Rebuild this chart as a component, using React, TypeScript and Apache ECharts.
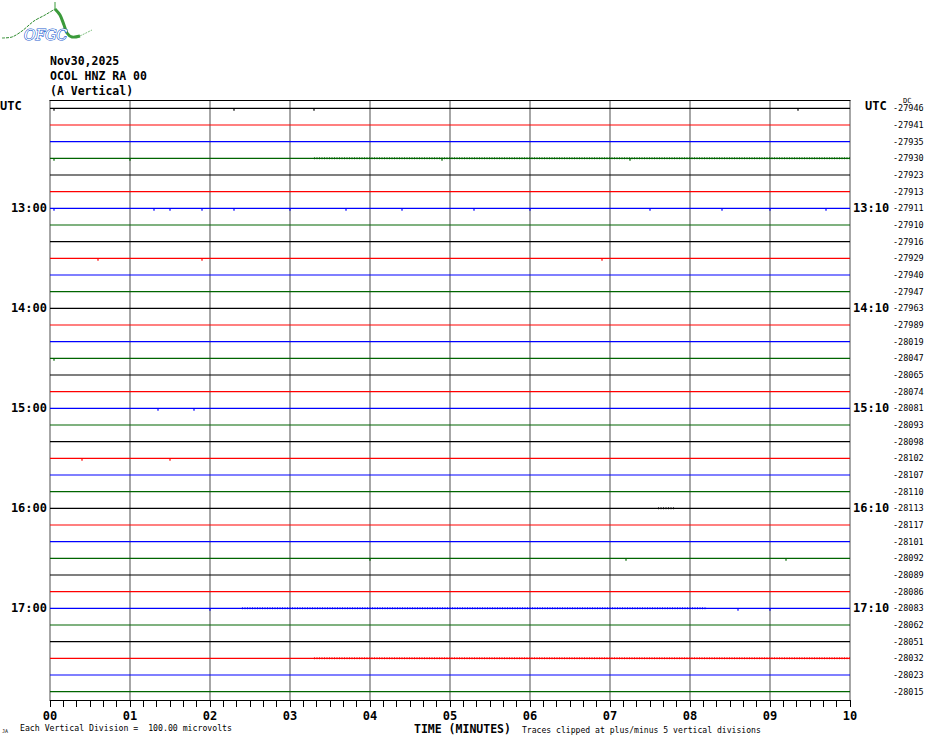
import React, { useEffect, useRef } from "react";
import * as echarts from "echarts";

// ---- data ----
const xTickLabels = ["00", "01", "02", "03", "04", "05", "06", "07", "08", "09", "10"];
const leftHourLabels = [
  "", "", "", "", "", "",
  "13:00", "", "", "", "", "",
  "14:00", "", "", "", "", "",
  "15:00", "", "", "", "", "",
  "16:00", "", "", "", "", "",
  "17:00", "", "", "", "", "",
];
const rightHourLabels = [
  "", "", "", "", "", "",
  "13:10", "", "", "", "", "",
  "14:10", "", "", "", "", "",
  "15:10", "", "", "", "", "",
  "16:10", "", "", "", "", "",
  "17:10", "", "", "", "", "",
];
const dcOffsets = [
  -27946, -27941, -27935, -27930, -27923, -27913,
  -27911, -27910, -27916, -27929, -27940, -27947,
  -27963, -27989, -28019, -28047, -28065, -28074,
  -28081, -28093, -28098, -28102, -28107, -28110,
  -28113, -28117, -28101, -28092, -28089, -28086,
  -28083, -28062, -28051, -28032, -28023, -28015,
];
const traceColors = ["#000000", "#ff0000", "#0000ff", "#006400"];
// [trace index, start minute, end minute] – stretches with visible noise
const noiseSegments: [number, number, number][] = [
  [3, 3.3, 10],
  [30, 2.4, 8.2],
  [33, 3.3, 10],
  [24, 7.6, 7.8],
];
// [trace index, minute] – isolated small spikes
const spikes: [number, number][] = [
  [0, 0.05], [0, 2.3], [0, 3.3], [0, 9.35],
  [3, 0.05], [3, 1.0], [3, 4.9], [3, 7.25],
  [6, 0.05], [6, 1.3], [6, 1.5], [6, 1.9], [6, 2.3], [6, 3.0], [6, 3.7], [6, 4.4], [6, 5.3], [6, 6.0], [6, 7.5], [6, 8.4], [6, 9.0], [6, 9.7],
  [9, 0.6], [9, 1.9], [9, 6.9],
  [15, 0.05],
  [18, 1.35], [18, 1.8],
  [21, 0.4], [21, 1.5],
  [27, 4.0], [27, 7.2], [27, 9.2],
  [30, 2.0], [30, 8.6], [30, 9.0],
];

const MONO = "'DejaVu Sans Mono', 'Liberation Mono', monospace";

export default function App() {
  const ref = useRef<HTMLDivElement>(null);

  useEffect(() => {
    if (!ref.current) return;
    const chart = echarts.init(ref.current, null, { renderer: "svg" });
    const nTraces = dcOffsets.length;

    const series: any[] = [];
    for (let i = 0; i < nTraces; i++) {
      series.push({
        type: "line",
        xAxisIndex: 0,
        yAxisIndex: 0,
        data: [[0, i + 0.5], [10, i + 0.5]],
        showSymbol: false,
        symbol: "none",
        lineStyle: { color: traceColors[i % 4], width: 1.2 },
        silent: true,
        z: 3,
      });
    }
    noiseSegments.forEach(([t, s, e]) => {
      series.push({
        type: "line",
        xAxisIndex: 0,
        yAxisIndex: 0,
        data: [[s, t + 0.5], [e, t + 0.5]],
        symbol: "none",
        lineStyle: { color: traceColors[t % 4], width: 2, type: [1, 1.5], opacity: 0.85 },
        silent: true,
        z: 4,
      });
    });
    series.push({
      type: "scatter",
      xAxisIndex: 0,
      yAxisIndex: 0,
      symbol: "rect",
      symbolSize: [1.5, 2],
      symbolOffset: [0, 1.5],
      silent: true,
      z: 4,
      data: spikes.map(([t, m]) => ({
        value: [m, t + 0.5],
        itemStyle: { color: traceColors[t % 4] },
      })),
    });

    const catAxisBase = {
      type: "category",
      gridIndex: 0,
      inverse: true,
      axisLine: { show: false },
      axisTick: { show: false },
      splitLine: { show: false },
    };

    chart.setOption({
      animation: false,
      backgroundColor: "#ffffff",
      grid: { left: 50, top: 100, width: 800, height: 600, containLabel: false },
      xAxis: [
        {
          type: "value",
          min: 0,
          max: 10,
          interval: 1,
          position: "bottom",
          axisLine: { show: true, onZero: false, lineStyle: { color: "#000", width: 1 } },
          axisTick: { show: true, length: 7, lineStyle: { color: "#000", width: 1 } },
          minorTick: { show: true, splitNumber: 6, length: 7, lineStyle: { color: "#000", width: 1 } },
          splitLine: { show: true, lineStyle: { color: "#888888", width: 1.5 } },
          axisLabel: {
            formatter: (v: number) => xTickLabels[Math.round(v)] ?? "",
            fontFamily: MONO,
            fontWeight: "bold",
            fontSize: 12,
            color: "#000",
            margin: 10,
          },
        },
        {
          type: "value",
          min: 0,
          max: 10,
          position: "top",
          axisLine: { show: true, onZero: false, lineStyle: { color: "#000", width: 1 } },
          axisTick: { show: false },
          axisLabel: { show: false },
          splitLine: { show: false },
        },
      ],
      yAxis: [
        { type: "value", min: 0, max: 36, inverse: true, show: false },
        {
          ...catAxisBase,
          position: "left",
          data: leftHourLabels,
          axisLabel: {
            interval: 0,
            fontFamily: MONO,
            fontWeight: "bold",
            fontSize: 12,
            color: "#000",
            margin: 3,
          },
        },
        {
          ...catAxisBase,
          position: "right",
          data: rightHourLabels,
          axisLabel: {
            interval: 0,
            fontFamily: MONO,
            fontWeight: "bold",
            fontSize: 12,
            color: "#000",
            margin: 3,
          },
        },
        {
          ...catAxisBase,
          position: "right",
          data: dcOffsets.map(String),
          axisLabel: {
            interval: 0,
            fontFamily: MONO,
            fontSize: 8.5,
            color: "#000",
            margin: 43,
          },
        },
      ],
      graphic: [
        // logo
        {
          type: "polyline",
          shape: { points: [[2, 38], [12, 37], [22, 31], [34, 21], [45, 15], [55, 9]], smooth: 0.3 },
          style: { stroke: "#2e8b2e", lineWidth: 1, fill: "none", lineDash: [3, 1] },
        },
        {
          type: "polyline",
          shape: { points: [[55, 9], [60, 15], [64, 25], [67, 33], [72, 37], [80, 36]], smooth: 0.3 },
          style: { stroke: "#3a9a3a", lineWidth: 3, fill: "none" },
        },
        {
          type: "polyline",
          shape: { points: [[80, 36], [92, 30]] },
          style: { stroke: "#7fbf7f", lineWidth: 1, fill: "none", lineDash: [2, 1] },
        },
        {
          type: "line",
          shape: { x1: 55, y1: 2, x2: 55, y2: 9 },
          style: { stroke: "#3a9a3a", lineWidth: 1 },
        },
        {
          type: "text",
          x: 24,
          y: 28,
          style: {
            text: "OFGC",
            fontFamily: "'DejaVu Serif', serif",
            fontStyle: "italic",
            fontSize: 14,
            fill: "#ffffff",
            stroke: "#1f5fd0",
            lineWidth: 1.2,
          },
        },
        // header
        {
          type: "text",
          x: 50,
          y: 55,
          style: { text: "Nov30,2025", fontFamily: MONO, fontWeight: "bold", fontSize: 11.5, fill: "#000" },
        },
        {
          type: "text",
          x: 50,
          y: 70,
          style: { text: "OCOL HNZ RA 00", fontFamily: MONO, fontWeight: "bold", fontSize: 11.5, fill: "#000" },
        },
        {
          type: "text",
          x: 50,
          y: 85,
          style: { text: "(A Vertical)", fontFamily: MONO, fontWeight: "bold", fontSize: 11.5, fill: "#000" },
        },
        {
          type: "text",
          x: 0,
          y: 100,
          style: { text: "UTC", fontFamily: MONO, fontWeight: "bold", fontSize: 12, fill: "#000" },
        },
        {
          type: "text",
          x: 865,
          y: 100,
          style: { text: "UTC", fontFamily: MONO, fontWeight: "bold", fontSize: 12, fill: "#000" },
        },
        {
          type: "text",
          x: 903,
          y: 97,
          style: { text: "DC", fontFamily: MONO, fontSize: 7, fill: "#000" },
        },
        // footer
        {
          type: "text",
          x: 2,
          y: 728,
          style: { text: "JA", fontFamily: MONO, fontSize: 5, fill: "#000" },
        },
        {
          type: "text",
          x: 20,
          y: 724,
          style: {
            text: "Each Vertical Division =  100.00 microvolts",
            fontFamily: MONO,
            fontSize: 8.2,
            fill: "#000",
          },
        },
        {
          type: "text",
          x: 414,
          y: 723,
          style: { text: "TIME (MINUTES)", fontFamily: MONO, fontWeight: "bold", fontSize: 11.5, fill: "#000" },
        },
        {
          type: "text",
          x: 522,
          y: 726,
          style: {
            text: "Traces clipped at plus/minus 5 vertical divisions",
            fontFamily: MONO,
            fontSize: 8.1,
            fill: "#000",
          },
        },
      ],
      series,
    });

    return () => chart.dispose();
  }, []);

  return <div ref={ref} style={{ width: 930, height: 744, position: "absolute", left: 0, top: 0 }} />;
}
